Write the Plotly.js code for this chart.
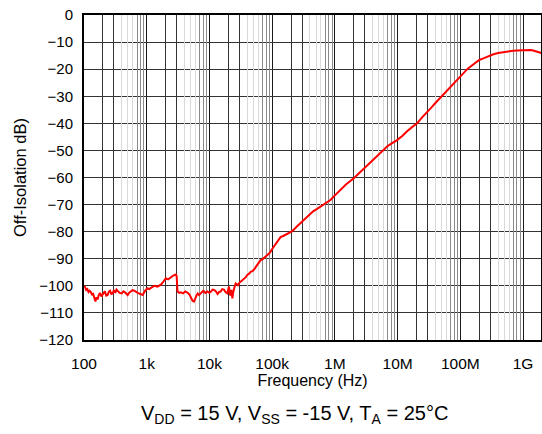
<!DOCTYPE html>
<html>
<head>
<meta charset="utf-8">
<script src="https://cdn.plot.ly/plotly-3.0.1.min.js"></script>
<style>html,body{margin:0;padding:0;background:#fff;}#chart{width:542px;height:434px;}</style>
</head>
<body>
<div id="chart"></div>
<script>
// Frequency (Hz) and off-isolation (dB)
const freqHz = [100, 104, 108, 113, 118, 123, 129, 134, 140, 146, 152, 158, 165, 172, 180, 189, 198, 206, 215, 226, 238, 249, 260, 273, 286, 300, 315, 330, 344, 370, 400, 425, 450, 472, 496, 525, 560, 595, 631, 675, 720, 790, 859, 900, 950, 1030, 1100, 1200, 1320, 1486, 1600, 1700, 1850, 2014, 2200, 2400, 2650, 2908, 3000, 3095, 3300, 3500, 3800, 4100, 4466, 4800, 5100, 5400, 5690, 6000, 6200, 6500, 6830, 7400, 8000, 8600, 9290, 9900, 10500, 11200, 11830, 12600, 13500, 14300, 15110, 16000, 17000, 18200, 19310, 20000, 20470, 21000, 21500, 22300, 23200, 24000, 24500, 25300, 26200, 27300, 28500, 30000, 31470, 33500, 36000, 38000, 40000, 42500, 45400, 48500, 52000, 55000, 58000, 61500, 65500, 70000, 75000, 82000, 91000, 100000, 110000, 122000, 136000, 150000, 170000, 190000, 209000, 250000, 300000, 370000, 450000, 520000, 600000, 700000, 849000, 1.0e6, 1.2e6, 1.5e6, 2.0e6, 2.5e6, 3.0e6, 4.0e6, 5.0e6, 6.0e6, 7.0e6, 8.3e6, 9.77e6, 1.2e7, 1.4e7, 1.7e7, 2.04e7, 2.5e7, 3.0e7, 3.5e7, 4.0e7, 4.6e7, 5.4e7, 6.4e7, 7.5e7, 8.6e7, 9.95e7, 1.1e8, 1.2e8, 1.3e8, 1.44e8, 1.6e8, 1.8e8, 2.0e8, 2.33e8, 2.8e8, 3.37e8, 4.0e8, 4.5e8, 5.0e8, 5.5e8, 6.2e8, 7.0e8, 8.0e8, 9.0e8, 1.0e9, 1.1e9, 1.2e9, 1.29e9, 1.4e9, 1.5e9, 1.65e9, 1.8e9, 2.0e9];
const isoDb = [-100.0, -100.4, -101.5, -101.2, -102.3, -101.8, -102.4, -103.2, -103.0, -104.6, -105.8, -104.2, -105.0, -103.4, -102.6, -103.9, -103.2, -102.4, -102.0, -103.6, -103.4, -102.2, -101.8, -103.0, -102.8, -101.6, -102.6, -101.4, -101.8, -102.6, -102.8, -102.0, -102.4, -103.0, -103.4, -102.5, -102.1, -101.6, -101.8, -102.4, -102.6, -103.0, -103.4, -102.6, -101.7, -100.9, -101.2, -100.6, -100.0, -100.3, -99.8, -99.5, -98.4, -97.2, -97.6, -96.8, -96.2, -95.8, -96.4, -102.1, -102.6, -102.4, -102.8, -102.1, -102.5, -103.2, -104.4, -105.6, -105.8, -104.0, -103.6, -102.8, -103.4, -102.6, -101.8, -102.6, -102.1, -102.6, -102.2, -101.4, -101.5, -102.0, -103.0, -102.2, -102.1, -101.2, -101.4, -102.4, -102.8, -101.2, -100.3, -102.4, -103.6, -101.5, -104.6, -102.2, -100.8, -100.2, -99.1, -99.6, -99.8, -98.9, -98.5, -97.8, -97.4, -96.8, -96.0, -95.6, -94.8, -94.6, -93.8, -93.0, -92.3, -91.4, -90.5, -90.2, -89.6, -88.8, -87.9, -86.4, -85.0, -83.4, -82.0, -81.6, -80.8, -80.2, -79.8, -78.0, -76.3, -74.3, -72.5, -71.6, -70.6, -69.6, -68.3, -66.6, -64.8, -62.6, -60.3, -58.2, -56.5, -53.8, -51.5, -49.8, -48.3, -47.2, -46.2, -44.6, -43.0, -41.4, -40.0, -37.6, -35.8, -34.0, -32.5, -31.0, -29.5, -27.6, -25.8, -24.2, -22.8, -21.8, -20.8, -19.9, -19.1, -18.2, -17.4, -16.6, -16.0, -15.2, -14.5, -14.0, -13.8, -13.6, -13.4, -13.3, -13.2, -13.1, -13.0, -12.9, -12.9, -12.9, -12.9, -13.0, -13.2, -13.5, -13.8, -14.1];

// Axis ticks
const decadeVals = [100, 1e3, 1e4, 1e5, 1e6, 1e7, 1e8, 1e9];
const decadeText = ['100', '1k', '10k', '100k', '1M', '10M', '100M', '1G'];
const yTicks = [0, -10, -20, -30, -40, -50, -60, -70, -80, -90, -100, -110, -120];
// Minor grid multipliers per decade (three shades in the reference)
const gridDarkMult = [2, 3];
const gridLightMult = [4, 5, 6];
const gridMidMult = [7, 8, 9];

function gridVals(mults) {
  const out = [];
  for (let e = 2; e <= 9; e++) for (const m of mults) out.push(m * Math.pow(10, e));
  return out;
}

const xRange = [2, 9.286];
const font = 'Arial, "Liberation Sans", sans-serif';

function overlayAxis(vals, color) {
  return {
    type: 'log', overlaying: 'x', range: xRange, tickmode: 'array', tickvals: vals,
    showticklabels: false, ticks: '', showgrid: true, gridcolor: color, gridwidth: 1,
    showline: false, zeroline: false, fixedrange: true
  };
}

const traces = [
  {x: [], y: [], xaxis: 'x2', yaxis: 'y', mode: 'lines', showlegend: false, hoverinfo: 'skip'},
  {x: [], y: [], xaxis: 'x3', yaxis: 'y', mode: 'lines', showlegend: false, hoverinfo: 'skip'},
  {x: [], y: [], xaxis: 'x4', yaxis: 'y', mode: 'lines', showlegend: false, hoverinfo: 'skip'},
  {x: freqHz, y: isoDb, xaxis: 'x', yaxis: 'y', mode: 'lines', line: {color: '#ff0000', width: 2}, showlegend: false}
];

const layout = {
  width: 542, height: 434,
  margin: {l: 84, r: 1, t: 15, b: 94},
  paper_bgcolor: '#ffffff', plot_bgcolor: '#ffffff',
  font: {family: font, color: '#000000'},
  showlegend: false,
  xaxis: {
    type: 'log', range: xRange, tickmode: 'array', tickvals: decadeVals, ticktext: decadeText,
    showgrid: true, gridcolor: '#1a1a1a', gridwidth: 1,
    showline: true, linecolor: '#000000', linewidth: 2, mirror: true,
    ticks: '', ticklabelstandoff: 8, zeroline: false,
    tickfont: {family: font, size: 15.5, color: '#000000'},
    title: {text: 'Frequency (Hz)', font: {family: font, size: 16, color: '#000000'}, standoff: 4}
  },
  xaxis2: overlayAxis(gridVals(gridDarkMult), '#333333'),
  xaxis3: overlayAxis(gridVals(gridLightMult), '#d9d9d9'),
  xaxis4: overlayAxis(gridVals(gridMidMult), '#8a8a8a'),
  yaxis: {
    range: [-120, 0], tickmode: 'array', tickvals: yTicks,
    showgrid: true, gridcolor: '#333333', gridwidth: 1,
    showline: true, linecolor: '#000000', linewidth: 2, mirror: true,
    ticks: '', ticklabelstandoff: 6, zeroline: false,
    tickfont: {family: font, size: 15, color: '#000000'},
    title: {text: 'Off-Isolation dB)', font: {family: font, size: 16.5, color: '#000000'}, standoff: 8}
  },
  annotations: [{
    text: 'V<sub>DD</sub> = 15 V, V<sub>SS</sub> = -15 V, T<sub>A</sub> = 25°C',
    xref: 'paper', yref: 'paper', x: 0.46, y: -0.23, xanchor: 'center', yanchor: 'middle',
    showarrow: false, font: {family: font, size: 20, color: '#000000'}
  }]
};

Plotly.newPlot('chart', traces, layout, {staticPlot: true, displayModeBar: false});
</script>
</body>
</html>
